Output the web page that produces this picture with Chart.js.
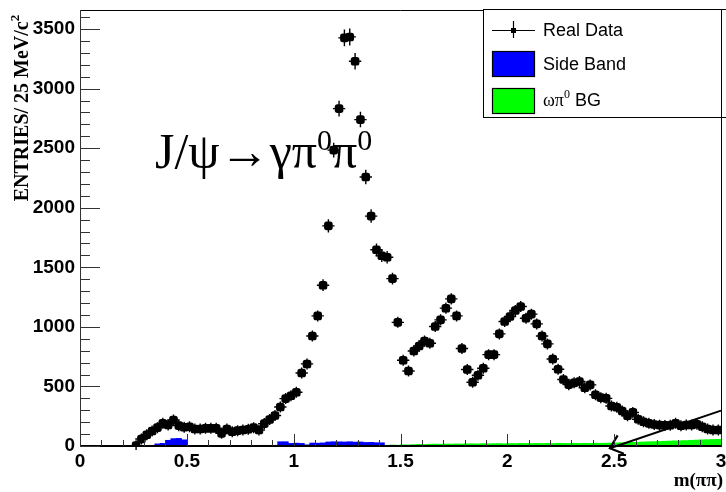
<!DOCTYPE html>
<html>
<head>
<meta charset="utf-8">
<script src="https://cdn.jsdelivr.net/npm/chart.js@4.4.1/dist/chart.umd.min.js"></script>
<style>
  html, body { margin: 0; padding: 0; background: #fff; }
  #wrap { width: 726px; height: 492px; }
</style>
</head>
<body>
<div id="wrap"><canvas id="mpipi" width="726" height="492"></canvas></div>
<script>
// m(pi pi) spectrum for J/psi -> gamma pi0 pi0, 25 MeV/c^2 bins

const BIN_WIDTH = 0.025;
const X_RANGE = [0, 3];
const Y_RANGE = [0, 3660];
const X_TICKS = [0, 0.5, 1, 1.5, 2, 2.5, 3];
const Y_TICKS = [0, 500, 1000, 1500, 2000, 2500, 3000, 3500];

// real data, starting at bin 10 (0.25 GeV)
const DATA_FIRST_BIN = 10;
const REAL_DATA = [
  3, 59, 95, 126, 154, 190, 176, 218, 171, 157,
  162, 143, 143, 148, 148, 148, 106, 143, 120, 129,
  134, 140, 154, 134, 188, 222, 256, 328, 398, 422,
  451, 613, 689, 924, 1092, 1350, 1848, 2484, 2832, 3426,
  3434, 3230, 2740, 2258, 1930, 1647, 1597, 1585, 1405, 1038,
  720, 630, 798, 840, 882, 863, 1003, 1059, 1157, 1235,
  1092, 818, 642, 535, 594, 653, 767, 767, 941, 1045,
  1087, 1137, 1171, 1073, 1107, 1025, 924, 857, 730, 644,
  558, 515, 530, 542, 489, 513, 430, 406, 400, 336,
  325, 294, 254, 282, 224, 204, 190, 181, 175, 173,
  174, 190, 170, 176, 176, 182, 162, 143, 134, 134
];

// side band background, starting at bin 14
const SIDE_BAND_FIRST_BIN = 14;
const SIDE_BAND = [
  18, 22, 48, 62, 64, 52,
  4, 5, 3, 4, 5, 4, 3, 5, 4, 4, 3, 5, 4, 5, 6, 5, 6,
  36, 36, 22, 24, 22, 10,
  25, 24, 26, 34, 36, 35, 34, 36, 33, 34, 30, 31, 28, 27,
  5, 6, 4, 5, 6, 5, 4, 6, 5, 5, 4, 6, 5, 4, 5, 6, 5, 4, 5, 5,
  6, 5, 4, 5, 6, 5, 5, 4, 6, 5, 4, 5, 6, 5, 5, 4, 6, 5, 4, 5,
  6, 5, 5, 4, 6, 5, 4, 5, 6, 5, 5, 4, 6, 5, 4, 5, 6, 5, 5, 4,
  6, 5, 4
];

// omega pi0 background, starting at bin 57
const OMEGA_BG_FIRST_BIN = 57;
const OMEGA_BG = [
  6, 8, 7, 10, 9, 12, 14, 13, 15, 16,
  15, 17, 16, 18, 17, 18, 19, 18, 20, 19,
  20, 21, 19, 21, 20, 22, 21, 20, 22, 21,
  22, 21, 23, 22, 21, 23, 22, 23, 22, 24,
  23, 24, 25, 26, 28, 29, 31, 32, 34, 36,
  37, 38, 40, 42, 43, 45, 46, 48, 50, 52,
  53, 55, 56
];

// annotation arrow (tail, tip) in data units
const ARROW = [
  { x: 3.0, y: 297 },
  { x: 2.48, y: -19 }
];

const LEGEND_ITEMS = ['Real Data', 'Side Band', 'BG'];

function toPoints(values, firstBin) {
  return values.map((v, i) => ({ x: (firstBin + i + 0.5) * BIN_WIDTH, y: v }));
}

const COLORS = {
  ink: '#000000',
  sideBand: '#0000ff',
  omegaBg: '#00ff00',
  axis: '#333333',
};

const rootDecor = {
  id: 'rootDecor',
  afterDatasetsDraw(chart) {
    const { ctx, chartArea: a, scales: { x, y } } = chart;
    // error bars on the data points
    ctx.save();
    ctx.beginPath();
    ctx.rect(a.left, a.top, a.right - a.left, a.bottom - a.top + 4);
    ctx.clip();
    ctx.strokeStyle = COLORS.ink;
    ctx.lineWidth = 1.4;
    const halfBin = (x.getPixelForValue(BIN_WIDTH) - x.getPixelForValue(0)) / 2;
    toPoints(REAL_DATA, DATA_FIRST_BIN).forEach(p => {
      const px = x.getPixelForValue(p.x);
      const py = y.getPixelForValue(p.y);
      const err = Math.max(py - y.getPixelForValue(p.y + Math.sqrt(p.y)) + 1.5, 5.5);
      ctx.beginPath();
      ctx.moveTo(px - halfBin - 3.5, py);
      ctx.lineTo(px + halfBin + 3.5, py);
      ctx.moveTo(px, py - err);
      ctx.lineTo(px, py + err);
      ctx.stroke();
    });
    ctx.restore();

    // arrow head
    const tx = x.getPixelForValue(ARROW[0].x), ty = y.getPixelForValue(ARROW[0].y);
    const hx = x.getPixelForValue(ARROW[1].x), hy = y.getPixelForValue(ARROW[1].y);
    const ang = Math.atan2(ty - hy, tx - hx);
    const len = 15, spread = 0.7;
    ctx.save();
    ctx.strokeStyle = COLORS.ink;
    ctx.lineWidth = 2.2;
    ctx.beginPath();
    ctx.moveTo(hx + len * Math.cos(ang - spread), hy + len * Math.sin(ang - spread));
    ctx.lineTo(hx, hy);
    ctx.lineTo(hx + len * Math.cos(ang + spread), hy + len * Math.sin(ang + spread));
    ctx.stroke();
    ctx.restore();
  },
  afterDraw(chart) {
    const { ctx, chartArea: a, scales: { x, y } } = chart;
    ctx.save();

    // frame
    ctx.strokeStyle = COLORS.ink;
    ctx.lineWidth = 1;
    ctx.beginPath();
    ctx.moveTo(a.left, a.top + 0.5);
    ctx.lineTo(a.right + 0.5, a.top + 0.5);
    ctx.lineTo(a.right + 0.5, a.bottom);
    ctx.stroke();
    ctx.strokeStyle = COLORS.axis;
    ctx.beginPath();
    ctx.moveTo(a.left + 0.5, a.top);
    ctx.lineTo(a.left + 0.5, a.bottom);
    ctx.stroke();
    ctx.strokeStyle = COLORS.ink;
    ctx.lineWidth = 2;
    ctx.beginPath();
    ctx.moveTo(a.left, a.bottom);
    ctx.lineTo(a.right + 1, a.bottom);
    ctx.stroke();

    // tick marks, drawn inside the frame like ROOT
    ctx.strokeStyle = COLORS.axis;
    ctx.lineWidth = 1;
    for (let v = 0; v <= Y_RANGE[1]; v += 100) {
      const py = Math.round(y.getPixelForValue(v)) + 0.5;
      const len = v % 500 === 0 ? 20 : 10;
      ctx.beginPath();
      ctx.moveTo(a.left, py);
      ctx.lineTo(a.left + len, py);
      ctx.stroke();
    }
    for (let k = 0; k <= 30; k++) {
      const px = Math.round(x.getPixelForValue(k / 10)) + 0.5;
      const len = k % 5 === 0 ? 12 : 6;
      ctx.beginPath();
      ctx.moveTo(px, a.bottom);
      ctx.lineTo(px, a.bottom - len);
      ctx.stroke();
    }

    // reaction label
    ctx.fillStyle = COLORS.ink;
    ctx.textBaseline = 'alphabetic';
    ctx.textAlign = 'left';
    const big = '50px "Liberation Serif"', sup = '30px "Liberation Serif"';
    let cx = 155;
    const base = 168;
    ctx.font = big; ctx.fillText('J/\u03C8\u2192\u03B3\u03C0', cx, base);
    cx += ctx.measureText('J/\u03C8\u2192\u03B3\u03C0').width;
    ctx.font = sup; ctx.fillText('0', cx, base - 18);
    cx += ctx.measureText('0').width;
    ctx.font = big; ctx.fillText('\u03C0', cx, base);
    cx += ctx.measureText('\u03C0').width;
    ctx.font = sup; ctx.fillText('0', cx, base - 18);

    // y title
    ctx.save();
    ctx.translate(28, 108);
    ctx.rotate(-Math.PI / 2);
    ctx.font = 'bold 20px "Liberation Serif"';
    const yMain = 'ENTRIES/ 25 MeV/c';
    const wMain = ctx.measureText(yMain).width;
    ctx.font = 'bold 13px "Liberation Serif"';
    const wSup = ctx.measureText('2').width;
    const start = -(wMain + wSup) / 2;
    ctx.font = 'bold 20px "Liberation Serif"';
    ctx.fillText(yMain, start, 0);
    ctx.font = 'bold 13px "Liberation Serif"';
    ctx.fillText('2', start + wMain, -9);
    ctx.restore();

    // x title
    ctx.font = 'bold 19px "Liberation Serif"';
    ctx.textAlign = 'right';
    ctx.fillText('m(\u03C0\u03C0)', 723, 486);

    // legend box
    ctx.textAlign = 'left';
    ctx.fillStyle = '#ffffff';
    ctx.fillRect(483, 10, 243, 107);
    ctx.strokeStyle = COLORS.ink;
    ctx.lineWidth = 1;
    ctx.strokeRect(483.5, 9.5, 260, 108);
    ctx.beginPath();
    ctx.moveTo(a.right + 0.5, 10);
    ctx.lineTo(a.right + 0.5, 117);
    ctx.stroke();

    // entry 1: data marker
    ctx.lineWidth = 1.2;
    ctx.beginPath();
    ctx.moveTo(492, 30.5); ctx.lineTo(535, 30.5);
    ctx.moveTo(513.5, 21); ctx.lineTo(513.5, 38);
    ctx.stroke();
    ctx.fillStyle = COLORS.ink;
    ctx.fillRect(511, 28, 5, 5);
    ctx.font = '18px "Liberation Sans"';
    ctx.textBaseline = 'middle';
    ctx.fillText(LEGEND_ITEMS[0], 543, 31);

    // entry 2: side band
    ctx.fillStyle = COLORS.sideBand;
    ctx.fillRect(492, 51, 42, 25);
    ctx.strokeRect(492.5, 51.5, 42, 25);
    ctx.fillStyle = COLORS.ink;
    ctx.fillText(LEGEND_ITEMS[1], 543, 65);

    // entry 3: omega pi0 background
    ctx.fillStyle = COLORS.omegaBg;
    ctx.fillRect(492, 88, 42, 25);
    ctx.strokeRect(492.5, 88.5, 42, 25);
    ctx.fillStyle = COLORS.ink;
    let lx = 543;
    ctx.font = '18px "Liberation Serif"';
    ctx.fillText('\u03C9\u03C0', lx, 101);
    lx += ctx.measureText('\u03C9\u03C0').width;
    ctx.font = '12px "Liberation Serif"';
    ctx.fillText('0', lx, 95);
    lx += ctx.measureText('0').width;
    ctx.font = '18px "Liberation Sans"';
    ctx.fillText(' ' + LEGEND_ITEMS[2], lx, 101);

    ctx.restore();
  }
};

new Chart(document.getElementById('mpipi'), {
  type: 'bar',
  data: {
    datasets: [
      {
        type: 'scatter',
        label: 'Real Data',
        data: toPoints(REAL_DATA, DATA_FIRST_BIN),
        backgroundColor: COLORS.ink,
        borderColor: COLORS.ink,
        pointStyle: 'rectRounded',
        pointRadius: 5,
        borderWidth: 0,
        order: 0,
      },
      {
        type: 'line',
        label: 'arrow',
        data: ARROW,
        borderColor: COLORS.ink,
        borderWidth: 2,
        pointRadius: 0,
        fill: false,
        clip: false,
        order: 0,
      },
      {
        label: 'wpi0 BG',
        data: toPoints(OMEGA_BG, OMEGA_BG_FIRST_BIN),
        backgroundColor: COLORS.omegaBg,
        borderWidth: 0,
        grouped: false,
        barPercentage: 1,
        categoryPercentage: 1,
        order: 1,
      },
      {
        label: 'Side Band',
        data: toPoints(SIDE_BAND, SIDE_BAND_FIRST_BIN),
        backgroundColor: COLORS.sideBand,
        borderWidth: 0,
        grouped: false,
        barPercentage: 1,
        categoryPercentage: 1,
        order: 2,
      },
    ],
  },
  options: {
    responsive: false,
    animation: false,
    devicePixelRatio: 1,
    layout: { padding: { top: 10, right: 2, left: 0, bottom: 0 } },
    plugins: {
      legend: { display: false },
      tooltip: { enabled: false },
    },
    scales: {
      x: {
        type: 'linear',
        min: X_RANGE[0],
        max: X_RANGE[1],
        offset: false,
        grid: { display: false, drawTicks: false },
        border: { display: false },
        afterBuildTicks: s => { s.ticks = X_TICKS.map(v => ({ value: v })); },
        afterFit: s => { s.height = 46; s.paddingLeft = 0; s.paddingRight = 0; },
        ticks: {
          padding: 4,
          maxRotation: 0,
          autoSkip: false,
          color: COLORS.ink,
          font: { family: 'Liberation Sans', size: 19, weight: 'bold' },
          callback: v => String(v),
        },
      },
      y: {
        min: Y_RANGE[0],
        max: Y_RANGE[1],
        grid: { display: false, drawTicks: false },
        border: { display: false },
        afterBuildTicks: s => { s.ticks = Y_TICKS.map(v => ({ value: v })); },
        afterFit: s => { s.width = 80; s.paddingTop = 0; s.paddingBottom = 0; },
        ticks: {
          padding: 5,
          autoSkip: false,
          color: COLORS.ink,
          font: { family: 'Liberation Sans', size: 19, weight: 'bold' },
          callback: v => String(v),
        },
      },
    },
  },
  plugins: [rootDecor],
});
</script>
</body>
</html>
